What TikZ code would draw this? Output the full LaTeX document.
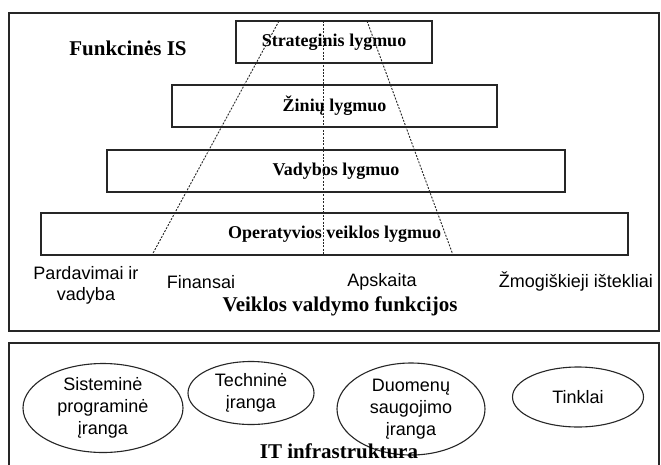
\documentclass[tikz,border=0pt]{standalone}
\usepackage{fontspec}
\setmainfont{Liberation Serif}
\setsansfont{Liberation Sans}
\usetikzlibrary{shapes.geometric}
\begin{document}
\begin{tikzpicture}[x=1pt,y=-1pt,
  frame/.style={draw=black!85,line width=1.4pt},
  levelbox/.style={draw=black!85,line width=1.2pt,rectangle,inner sep=0pt,
    font=\bfseries\fontsize{18}{20}\selectfont},
  heading/.style={font=\bfseries\fontsize{21}{23}\selectfont,inner sep=0pt},
  func/.style={font=\sffamily\fontsize{18}{21}\selectfont,align=center,inner sep=0pt},
  infra/.style={draw=black!85,line width=1.1pt,ellipse,inner sep=0pt,
    font=\sffamily\fontsize{18}{22}\selectfont,align=center},
  divider/.style={draw=black!85,line width=0.9pt,dash pattern=on 2pt off 1.4pt}]
\useasboundingbox (0,0) rectangle (661,464);
\clip (0,0) rectangle (661,464);
\fill[white] (0,0) rectangle (661,464);

% outer frames
\draw[frame] (9,13) rectangle (659,331);
\draw[frame] (9,343) rectangle (659,480);

% management levels
\node[levelbox,minimum width=196pt,minimum height=42pt] (strat) at (334,42) {Strateginis lygmuo};
\node[levelbox,minimum width=325pt,minimum height=42pt] (zin) at (334.5,106) {Žinių lygmuo};
\node[levelbox,minimum width=458pt,minimum height=42pt] (vad) at (336,171) {Vadybos lygmuo};
\node[levelbox,minimum width=587pt,minimum height=42pt] (oper) at (334.5,234) {Operatyvios veiklos lygmuo};

\node[heading] (fis) at (128,48) {Funkcinės IS};

% functional dividers
\coordinate (l1) at (279,21);
\coordinate (l2) at (152,255);
\coordinate (m1) at (323,21);
\coordinate (m2) at (323,255);
\coordinate (r1) at (367,21);
\coordinate (r2) at (453,255);
\draw[divider] (l1) -- (l2);
\draw[divider] (m1) -- (m2);
\draw[divider] (r1) -- (r2);

% business functions
\node[func] (pard) at (86,285) {Pardavimai ir\\vadyba};
\node[func] (fin) at (201,282) {Finansai};
\node[func] (aps) at (382,282) {Apskaita};
\node[func] (zmo) at (576,281) {Žmogiškieji ištekliai};
\node[heading] (vvf) at (340,306) {Veiklos valdymo funkcijos};

% IT infrastructure
\node[infra,minimum width=160pt,minimum height=89pt] (sis) at (103,408) {Sisteminė\\programinė\\įranga};
\node[infra,minimum width=126pt,minimum height=63pt] (tech) at (251,393) {Techninė\\įranga};
\node[infra,minimum width=148pt,minimum height=92pt] (duom) at (411,409) {Duomenų\\saugojimo\\įranga};
\node[infra,minimum width=131pt,minimum height=60pt] (tink) at (578,397) {Tinklai};
\node[heading] (itinf) at (339,451) {IT infrastruktura};
\end{tikzpicture}
\end{document}
